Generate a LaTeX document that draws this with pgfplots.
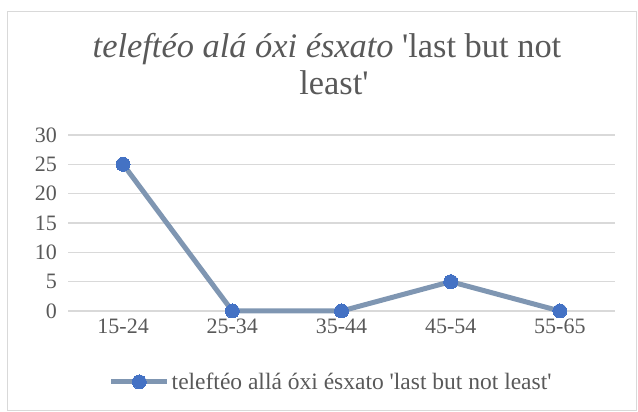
\documentclass[border=0pt]{standalone}
\usepackage{fontspec}
\setmainfont{Liberation Serif}
\usepackage{pgfplots}
\pgfplotsset{compat=1.18}
\definecolor{txt}{HTML}{595959}
\definecolor{gridc}{HTML}{D9D9D9}
\definecolor{linec}{HTML}{7F96B2}
\definecolor{markc}{HTML}{4472C4}
\begin{document}
\begin{tikzpicture}[x=1pt,y=1pt]
\useasboundingbox (0,0) rectangle (638,412);
\draw[gridc,line width=1.2pt] (7.5,1.5) rectangle (636.5,400.5);
\node[text=txt,anchor=base,inner sep=0pt,font=\fontsize{34.4}{37}\selectfont] at (327,354) {\textit{teleftéo alá óxi ésxato} \textquotesingle last but not};
\node[text=txt,anchor=base,inner sep=0pt,font=\fontsize{34.4}{37}\selectfont] at (334,317) {least\textquotesingle};
\begin{axis}[
  at={(68.5pt,101pt)}, anchor=south west,
  scale only axis, width=546pt, height=176pt,
  xmin=-0.5, xmax=4.5, ymin=0, ymax=30,
  xtick={0,1,2,3,4},
  xticklabels={15-24,25-34,35-44,45-54,55-65},
  ytick={0,5,10,15,20,25,30},
  axis line style={draw=none},
  major tick length=0pt,
  ymajorgrids, grid style={gridc,line width=1.2pt},
  tick label style={text=txt,font=\fontsize{22}{26}\selectfont},
  /pgf/number format/assume math mode=true,
  yticklabel style={xshift=-8pt},
  xticklabel style={yshift=-4pt},
  clip=false,
  legend style={at={(0.481,-0.403)},anchor=center,draw=none,fill=none,
    font=\fontsize{23.5}{26}\selectfont,text=txt,
    /tikz/every even column/.append style={column sep=2pt}},
  legend image code/.code={\draw[mark repeat=2,mark phase=2,#1] plot coordinates {(0pt,0pt) (28pt,0pt) (56pt,0pt)};},
]
\addplot[linec,line width=5pt,mark=*,mark size=7pt,mark options={draw=markc,fill=markc,line width=0pt}]
  coordinates {(0,25) (1,0) (2,0) (3,5) (4,0)};
\addlegendentry{teleftéo allá óxi ésxato \textquotesingle last but not least\textquotesingle}
\end{axis}
\end{tikzpicture}
\end{document}
